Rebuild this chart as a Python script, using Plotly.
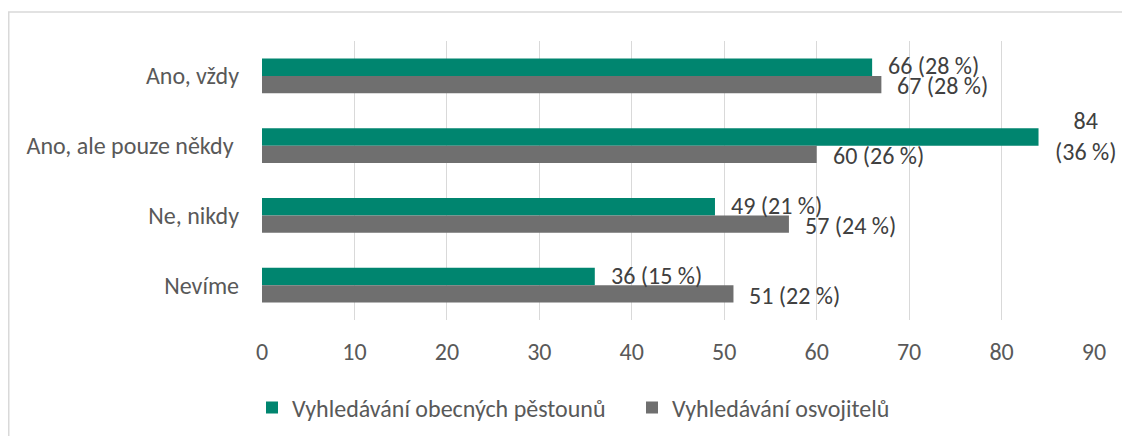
import plotly.graph_objects as go

categories = ["Ano, vždy", "Ano, ale pouze někdy", "Ne, nikdy", "Nevíme"]
category_ticktext = ["Ano, vždy", "Ano, ale pouze někdy\u00a0", "Ne, nikdy", "Nevíme"]
series_names = ["Vyhledávání obecných pěstounů", "Vyhledávání osvojitelů"]
pestouni_values = [66, 84, 49, 36]
pestouni_labels = ["66 (28 %)", "84<br>(36 %)", "49 (21 %)", "36 (15 %)"]
osvojitele_values = [67, 60, 57, 51]
osvojitele_labels = ["67 (28 %)", "60 (26 %)", "57 (24 %)", "51 (22 %)"]
x_ticks = [0, 10, 20, 30, 40, 50, 60, 70, 80, 90]

FONT = "Carlito, Calibri, 'Noto Sans', sans-serif"
TXT = "#595959"
LBL = "#404040"
TEAL = "#00856F"
GRAY = "#6F6F6F"
FS = 24

fig = go.Figure()
fig.add_trace(go.Bar(y=categories, x=pestouni_values, orientation="h", name=series_names[0],
                     marker=dict(color=TEAL, line=dict(width=0))))
fig.add_trace(go.Bar(y=categories, x=osvojitele_values, orientation="h", name=series_names[1],
                     marker=dict(color=GRAY, line=dict(width=0))))

annotations = []
for cat, v, t in zip(categories, pestouni_values, pestouni_labels):
    annotations.append(dict(x=v, y=cat, xref="x", yref="y", text=t, showarrow=False,
                            xanchor="left", yanchor="middle", xshift=14, yshift=10, align="center",
                            font=dict(family=FONT, size=FS, color=LBL)))
for cat, v, t in zip(categories, osvojitele_values, osvojitele_labels):
    annotations.append(dict(x=v, y=cat, xref="x", yref="y", text=t, showarrow=False,
                            xanchor="left", yanchor="middle", xshift=14, yshift=-10, align="center",
                            font=dict(family=FONT, size=FS, color=LBL)))

# page body has an 8px margin, so the figure is offset by 8px
W, H = 1122, 428
L, R, T, B = 254, 36, 33, 116
pw = W - L - R
ph = H - T - B

fig.update_layout(
    width=W, height=H,
    margin=dict(l=L, r=R, t=T, b=B, autoexpand=False),
    paper_bgcolor="white", plot_bgcolor="white",
    barmode="group", bargap=0.5, bargroupgap=0,
    font=dict(family=FONT, size=FS, color=TXT),
    xaxis=dict(range=[0, 90], tickvals=x_ticks, showgrid=True, gridcolor="#D9D9D9", gridwidth=1,
               zeroline=False, showline=False, ticks="", tickfont=dict(size=FS, color=TXT),
               ticklabelstandoff=15, automargin=False),
    yaxis=dict(autorange="reversed", showgrid=False, zeroline=False, showline=False, ticks="",
               tickvals=categories, ticktext=category_ticktext, ticklabelstandoff=22,
               tickfont=dict(size=FS, color=TXT), automargin=False),
    legend=dict(orientation="h", xref="container", yref="container", x=244 / W, y=0.0654,
                xanchor="left", yanchor="middle", font=dict(size=FS, color=TXT),
                itemwidth=30, entrywidth=335, entrywidthmode="pixels",
                traceorder="normal", bgcolor="rgba(0,0,0,0)"),
    annotations=annotations,
    shapes=[dict(type="rect", xref="paper", yref="paper",
                 x0=(0.75 - L) / pw, x1=(W + 20 - L) / pw,
                 y0=-(H + 20 - (H - B)) / ph, y1=(H - B - 4) / ph,
                 line=dict(color="#D9D9D9", width=1.5), fillcolor="rgba(0,0,0,0)", layer="below")],
)

fig.write_html("out.html")
